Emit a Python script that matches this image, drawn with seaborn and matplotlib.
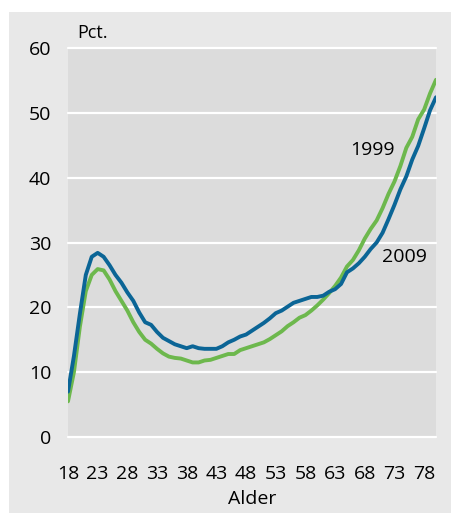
import matplotlib
matplotlib.use("Agg")
import matplotlib.pyplot as plt
import seaborn as sns
import pandas as pd
import numpy as np
from matplotlib.patches import Rectangle

ages = list(range(18, 81))
pct_2009 = [7.0, 12.5, 19.0, 25.0, 27.8, 28.4, 27.8, 26.5, 25.0, 23.8,
            22.3, 21.0, 19.2, 17.7, 17.3, 16.2, 15.3, 14.8, 14.3, 14.0,
            13.7, 14.0, 13.7, 13.6, 13.6, 13.6, 14.0, 14.6, 15.0, 15.5,
            15.8, 16.4, 17.0, 17.6, 18.3, 19.1, 19.5, 20.1, 20.7, 21.0,
            21.3, 21.6, 21.6, 21.8, 22.4, 22.8, 23.6, 25.4, 26.0, 26.8,
            27.8, 29.0, 30.0, 31.5, 33.6, 35.8, 38.2, 40.2, 42.8, 44.9,
            47.6, 50.4, 52.4]
pct_1999 = [5.5, 10.0, 17.0, 22.5, 25.0, 25.9, 25.7, 24.3, 22.5, 21.0,
            19.5, 17.7, 16.2, 15.0, 14.4, 13.6, 12.9, 12.4, 12.2, 12.1,
            11.8, 11.5, 11.5, 11.8, 11.9, 12.2, 12.5, 12.8, 12.8, 13.4,
            13.7, 14.0, 14.3, 14.6, 15.1, 15.7, 16.3, 17.1, 17.7, 18.4,
            18.8, 19.5, 20.3, 21.2, 22.2, 23.3, 24.6, 26.3, 27.3, 28.8,
            30.6, 32.1, 33.4, 35.3, 37.5, 39.4, 41.8, 44.6, 46.3, 49.0,
            50.5, 53.0, 55.1]
series_names = ["1999", "2009"]
x_ticks = list(range(18, 79, 5))
y_ticks = list(range(0, 61, 10))

df = pd.DataFrame({
    "Alder": ages * 2,
    "Pct": pct_1999 + pct_2009,
    "År": ["1999"] * len(ages) + ["2009"] * len(ages),
})

sns.set_theme(style="white")
plt.rcParams['font.family'] = ['Open Sans', 'DejaVu Sans']
plt.rcParams['text.color'] = 'black'
plt.rcParams['xtick.color'] = 'black'
plt.rcParams['ytick.color'] = 'black'
plt.rcParams['axes.labelcolor'] = 'black'

W, H = 452, 513
fig = plt.figure(figsize=(W / 100, H / 100), dpi=100, facecolor="white")
bg = Rectangle((9 / W, 0), 1 - 9 / W, 1 - 12 / H, transform=fig.transFigure,
               facecolor="#e8e8e8", edgecolor="none", zorder=-10)
fig.add_artist(bg)
ax = fig.add_axes([68 / W, (H - 437) / H, (436 - 68) / W, (437 - 48) / H])
ax.set_zorder(1)
ax.set_facecolor("#dcdcdc")

palette = {"1999": "#6db84d", "2009": "#0b6596"}
sns.lineplot(data=df, x="Alder", y="Pct", hue="År", palette=palette,
             linewidth=2.8, ax=ax, legend=False, zorder=3)

ax.set_xlim(18, 80)
ax.set_ylim(0, 60)
ax.set_xticks(x_ticks)
ax.set_yticks(y_ticks)
ax.set_xticklabels([str(t) for t in x_ticks], fontsize=14)
ax.set_yticklabels([str(t) for t in y_ticks], fontsize=14)
ax.tick_params(axis="both", length=0, colors="black")
ax.tick_params(axis="y", pad=12)
ax.tick_params(axis="x", pad=20)
for s in ax.spines.values():
    s.set_visible(False)
ax.yaxis.grid(True, color="white", linewidth=1.6)
ax.xaxis.grid(False)
ax.set_axisbelow(True)
for gl in ax.get_ygridlines():
    gl.set_clip_on(False)

ax.set_xlabel("Alder", fontsize=14, labelpad=5, color="black")
ax.set_ylabel("")

fig.text(77 / W, 1 - 33 / H, "Pct.", fontsize=13, ha="left", va="center", zorder=5)

ax.text(69.3, 44.3, "1999", fontsize=14, ha="center", va="center")
ax.text(74.7, 27.8, "2009", fontsize=14, ha="center", va="center")

fig.savefig("out.png", dpi=100, facecolor="white")
